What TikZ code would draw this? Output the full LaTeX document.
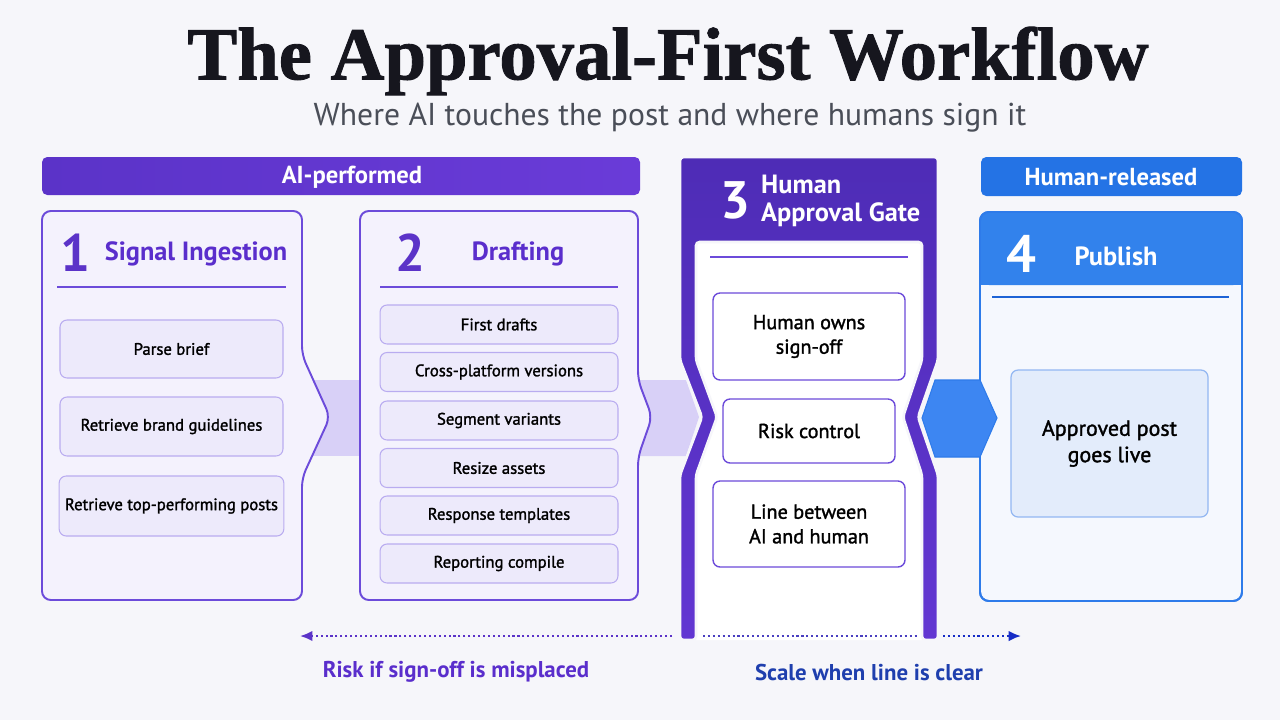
\documentclass[tikz,border=0pt]{standalone}
\usepackage{fontspec}
\setmainfont{PT Sans}
\newfontfamily\medfont{PT Sans}[FakeBold=1.5]
\newfontfamily\titlefont{Liberation Serif}[FakeBold=1.2]
\usetikzlibrary{arrows.meta}

\definecolor{bgcol}{HTML}{F6F6FA}
\definecolor{titlecol}{HTML}{16161E}
\definecolor{subcol}{HTML}{4A4E58}
\definecolor{aipurple}{HTML}{5B33C8}
\definecolor{aipurplelt}{HTML}{6A3BD8}
\definecolor{purpletxt}{HTML}{5A2ECC}
\definecolor{boxline}{HTML}{6C4BDA}
\definecolor{boxfill}{HTML}{F4F2FD}
\definecolor{itemfill}{HTML}{EDEAFB}
\definecolor{itemline}{HTML}{B9ACF0}
\definecolor{bandcol}{HTML}{D8D0F7}
\definecolor{gatetop}{HTML}{4E2CB6}
\definecolor{gatebot}{HTML}{6236D2}
\definecolor{relblue}{HTML}{2473E5}
\definecolor{headblue}{HTML}{3282EC}
\definecolor{blueline}{HTML}{2E7BEA}
\definecolor{bluerule}{HTML}{1D63D6}
\definecolor{bluefill}{HTML}{F5F8FE}
\definecolor{liveline}{HTML}{93B7F2}
\definecolor{livefill}{HTML}{E3ECFB}
\definecolor{hexblue}{HTML}{3D86F2}
\definecolor{scaleblue}{HTML}{1F3FAE}
\definecolor{midblue}{HTML}{4A3FC0}

\tikzset{
	barlabel/.style={text=white, font=\bfseries\fontsize{14}{16}\selectfont},
	bignum/.style={font=\bfseries\fontsize{30}{32}\selectfont},
	stagehead/.style={font=\bfseries\fontsize{15}{18}\selectfont},
	itembox/.style={draw=itemline, fill=itemfill, rounded corners=4pt, line width=0.6pt, font=\medfont\fontsize{9.5}{11}\selectfont},
	gatebox/.style={draw=boxline, fill=white, rounded corners=4pt, line width=0.8pt, align=center, font=\medfont\fontsize{11.5}{14}\selectfont},
	dotline/.style={line width=1.2pt, dash pattern=on 1.2pt off 1.6pt}
}

\begin{document}
\begin{tikzpicture}[x=0.02cm, y=-0.02cm]
	\fill[bgcol] (0,0) rectangle (1280,720);

	\node[font=\titlefont\bfseries\fontsize{42.5}{50}\selectfont, text=titlecol] (title) at (668,61) {The Approval-First Workflow};
	\node[font=\fontsize{18}{21}\selectfont, text=subcol] (subtitle) at (670,118) {Where AI touches the post and where humans sign it};

	\shade[left color=aipurple, right color=aipurplelt, rounded corners=3pt] (42,157) rectangle (640,195);
	\node[barlabel] (aibar) at (352,177) {AI-performed};
	\fill[relblue, rounded corners=3pt] (981,157) rectangle (1242,196);
	\node[barlabel] (humanbar) at (1111,177) {Human-released};

	\fill[bandcol] (295,380) rectangle (365,456);
	\fill[bandcol] (625,380) -- (686,380) -- (699,417) -- (686,456) -- (625,456) -- cycle;

	\draw[draw=boxline, fill=boxfill, line width=1.1pt, rounded corners=5pt] (42,211) -- (302,211) -- (302,355) -- (330,417) -- (302,478) -- (302,600) -- (42,600) -- cycle;
	\node[bignum, text=aipurple] (num1) at (75,253) {1};
	\node[stagehead, text=purpletxt] (head1) at (196,254) {Signal Ingestion};
	\draw[boxline, line width=1.2pt] (57,287) -- (286,287);
	\node[itembox, minimum width=4.46cm, minimum height=1.16cm] (parse) at (171.5,349) {Parse brief};
	\node[itembox, minimum width=4.46cm, minimum height=1.18cm] (brand) at (171.5,426.5) {Retrieve brand guidelines};
	\node[itembox, minimum width=4.46cm, minimum height=1.2cm] (topposts) at (171.5,506) {Retrieve top-performing posts};

	\draw[draw=boxline, fill=boxfill, line width=1.1pt, rounded corners=5pt] (360,211) -- (638,211) -- (638,380) -- (652,417) -- (638,457) -- (638,600) -- (360,600) -- cycle;
	\node[bignum, text=aipurple] (num2) at (410,253) {2};
	\node[stagehead, text=purpletxt] (head2) at (518,254) {Drafting};
	\draw[boxline, line width=1.2pt] (380,287) -- (618,287);
	\node[itembox, minimum width=4.76cm, minimum height=0.78cm] (drafts) at (499,324.5) {First drafts};
	\node[itembox, minimum width=4.76cm, minimum height=0.78cm] (cross) at (499,372) {Cross-platform versions};
	\node[itembox, minimum width=4.76cm, minimum height=0.78cm] (segment) at (499,420.5) {Segment variants};
	\node[itembox, minimum width=4.76cm, minimum height=0.78cm] (resize) at (499,468) {Resize assets};
	\node[itembox, minimum width=4.76cm, minimum height=0.78cm] (response) at (499,515.5) {Response templates};
	\node[itembox, minimum width=4.76cm, minimum height=0.78cm] (reporting) at (499,563.5) {Reporting compile};

	\fill[white] (696,242) -- (922,242) -- (922,360) -- (903,417) -- (922,475) -- (922,640) -- (696,640) -- (696,475) -- (717,417) -- (696,360) -- cycle;
	\shadedraw[top color=gatetop, bottom color=gatebot, draw=bgcol, line width=1.5pt, rounded corners=2pt] (680,640) -- (680,475) -- (702,417) -- (680,360) -- (680,157) -- (938,157) -- (938,360) -- (918,417) -- (938,475) -- (938,640) -- (922,640) -- (922,475) -- (903,417) -- (922,360) -- (922,242) -- (696,242) -- (696,360) -- (717,417) -- (696,475) -- (696,640) -- cycle;
	\node[bignum, text=white] (num3) at (735,200) {3};
	\node[stagehead, text=white, anchor=west, align=left, font=\bfseries\fontsize{15}{15.5}\selectfont] (head3) at (755,201) {Human\\Approval Gate};
	\draw[boxline, line width=1.2pt] (710,257) -- (908,257);
	\node[gatebox, minimum width=3.84cm, minimum height=1.74cm] (owns) at (809,336.5) {Human owns\\sign-off};
	\node[gatebox, minimum width=3.44cm, minimum height=1.28cm] (riskctl) at (809,431) {Risk control};
	\node[gatebox, minimum width=3.84cm, minimum height=1.72cm] (linebetween) at (809,524) {Line between\\AI and human};

	\draw[draw=blueline, fill=bluefill, line width=1.1pt, rounded corners=5pt] (980,212) rectangle (1242,601);
	\fill[headblue, rounded corners=5pt] (980,212) rectangle (1242,285);
	\fill[headblue] (980,260) rectangle (1242,285);
	\draw[blueline, line width=1.1pt, rounded corners=5pt] (980,212) rectangle (1242,601);
	\node[bignum, text=white] (num4) at (1021,254) {4};
	\node[stagehead, text=white] (head4) at (1116,256) {Publish};
	\draw[bluerule, line width=1.2pt] (992,297) -- (1229,297);
	\node[draw=liveline, fill=livefill, rounded corners=4pt, line width=0.7pt, minimum width=3.94cm, minimum height=2.94cm, align=center, font=\medfont\fontsize{12.5}{15}\selectfont] (live) at (1109.5,443.5) {Approved post\\goes live};
	\draw[fill=hexblue, draw=blueline, line width=0.6pt] (922,418) -- (935,380) -- (980,380) -- (997,418) -- (980,457) -- (935,457) -- cycle;

	\coordinate (riskstart) at (672,636);
	\coordinate (riskend) at (300,636);
	\coordinate (gapstart) at (703,636);
	\coordinate (gapend) at (917,636);
	\coordinate (scalestart) at (943,636);
	\coordinate (scaleend) at (1021,636);
	\draw[dotline, aipurple, -{Latex[length=7pt, width=6pt]}] (riskstart) -- (riskend);
	\draw[dotline, midblue] (gapstart) -- (gapend);
	\draw[dotline, scaleblue!70!blue, -{Latex[length=7pt, width=6pt]}] (scalestart) -- (scaleend);
	\node[font=\bfseries\fontsize{13}{15}\selectfont, text=purpletxt] (risklabel) at (456,672) {Risk if sign-off is misplaced};
	\node[font=\bfseries\fontsize{13}{15}\selectfont, text=scaleblue] (scalelabel) at (869,672) {Scale when line is clear};
\end{tikzpicture}
\end{document}
